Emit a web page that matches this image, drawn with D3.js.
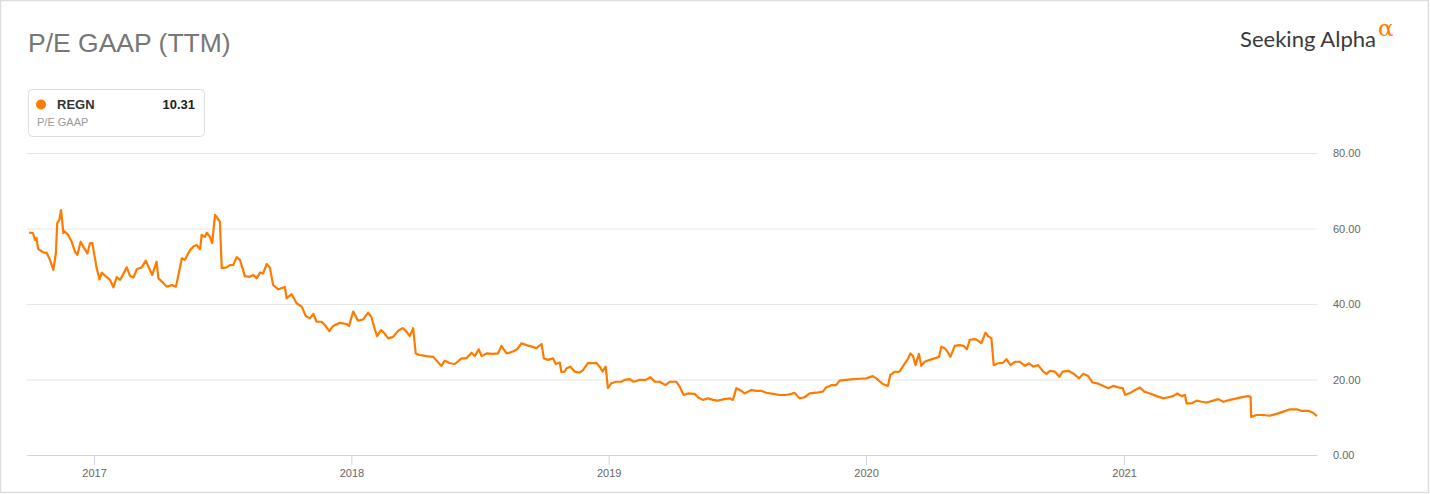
<!DOCTYPE html>
<html><head><meta charset="utf-8">
<script src="https://cdn.jsdelivr.net/npm/d3@7"></script>
<style>
html,body{margin:0;padding:0;background:#fff;}
svg{display:block;font-family:"Liberation Sans",Arial,sans-serif;}
</style></head>
<body><svg id="c" width="1430" height="494"></svg>
<script>
// ---- data (time as decimal year, P/E GAAP TTM) ----
const ticker = "REGN";
const metricLabel = "P/E GAAP";
const chartTitle = "P/E GAAP (TTM)";
const lastValue = "10.31";
const yearTicks = [2017, 2018, 2019, 2020, 2021];
const valueTicks = [0, 20, 40, 60, 80];
const peTime = [
2016.748,2016.763,2016.771,2016.777,2016.783,2016.798,2016.810,2016.816,2016.829,2016.842,
2016.852,2016.857,2016.865,2016.872,2016.881,2016.887,2016.900,2016.913,2016.926,2016.935,
2016.948,2016.958,2016.974,2016.984,2016.993,2017.010,2017.021,2017.030,2017.049,2017.062,
2017.075,2017.088,2017.101,2017.127,2017.140,2017.153,2017.166,2017.185,2017.201,2017.217,
2017.226,2017.243,2017.250,2017.269,2017.282,2017.302,2017.318,2017.327,2017.341,2017.353,
2017.373,2017.386,2017.399,2017.412,2017.418,2017.431,2017.438,2017.450,2017.459,2017.470,
2017.477,2017.483,2017.489,2017.496,2017.515,2017.528,2017.541,2017.554,2017.567,2017.586,
2017.606,2017.619,2017.632,2017.645,2017.657,2017.671,2017.683,2017.696,2017.716,2017.742,
2017.748,2017.768,2017.787,2017.807,2017.823,2017.839,2017.852,2017.865,2017.884,2017.897,
2017.914,2017.929,2017.955,2017.981,2017.991,2018.007,2018.026,2018.046,2018.065,2018.078,
2018.091,2018.100,2018.115,2018.130,2018.143,2018.162,2018.182,2018.199,2018.214,2018.227,
2018.240,2018.250,2018.266,2018.292,2018.318,2018.331,2018.350,2018.363,2018.383,2018.402,
2018.428,2018.447,2018.467,2018.480,2018.495,2018.506,2018.525,2018.551,2018.570,2018.583,
2018.603,2018.628,2018.644,2018.661,2018.680,2018.700,2018.719,2018.739,2018.748,2018.764,
2018.784,2018.794,2018.810,2018.816,2018.829,2018.836,2018.851,2018.868,2018.887,2018.900,
2018.920,2018.939,2018.952,2018.965,2018.976,2018.988,2018.997,2019.010,2019.030,2019.049,
2019.062,2019.082,2019.097,2019.120,2019.144,2019.162,2019.179,2019.198,2019.221,2019.237,
2019.263,2019.276,2019.291,2019.308,2019.334,2019.347,2019.366,2019.386,2019.405,2019.424,
2019.450,2019.470,2019.483,2019.496,2019.515,2019.528,2019.554,2019.574,2019.593,2019.612,
2019.638,2019.664,2019.690,2019.710,2019.722,2019.742,2019.761,2019.781,2019.807,2019.832,
2019.845,2019.865,2019.884,2019.897,2019.923,2019.949,2019.975,2020.001,2020.026,2020.040,
2020.065,2020.085,2020.094,2020.111,2020.130,2020.150,2020.162,2020.172,2020.182,2020.192,
2020.205,2020.214,2020.227,2020.247,2020.266,2020.283,2020.292,2020.305,2020.318,2020.327,
2020.344,2020.363,2020.379,2020.391,2020.402,2020.421,2020.434,2020.447,2020.463,2020.473,
2020.486,2020.495,2020.512,2020.531,2020.544,2020.560,2020.577,2020.596,2020.616,2020.632,
2020.648,2020.667,2020.687,2020.700,2020.713,2020.732,2020.749,2020.762,2020.784,2020.803,
2020.826,2020.842,2020.861,2020.878,2020.900,2020.920,2020.939,2020.958,2020.978,2020.995,
2021.004,2021.023,2021.043,2021.062,2021.078,2021.101,2021.127,2021.153,2021.172,2021.191,
2021.207,2021.224,2021.237,2021.243,2021.263,2021.282,2021.302,2021.321,2021.347,2021.366,
2021.386,2021.412,2021.438,2021.463,2021.483,2021.492,2021.494,2021.515,2021.541,2021.567,
2021.593,2021.619,2021.645,2021.671,2021.690,2021.716,2021.735,2021.750
];
const peValues = [
58.9,58.8,57.0,57.5,54.6,53.9,53.5,53.6,51.7,49.0,
53.5,61.4,62.2,64.9,58.8,59.2,58.3,56.5,53.9,53.0,
56.5,55.2,53.4,56.1,56.2,49.5,46.5,48.3,47.1,46.4,
44.4,47.1,46.4,49.7,47.4,47.0,49.2,49.7,51.5,49.0,
47.7,51.2,46.8,45.6,44.6,45.0,44.6,47.4,52.1,51.7,
54.3,55.2,55.6,54.5,58.3,57.8,58.9,57.8,56.1,63.6,
63.0,62.3,61.8,49.5,49.7,50.3,50.3,52.4,51.7,47.4,
47.2,47.7,46.8,48.3,48.1,50.6,49.7,45.0,43.9,44.5,
41.5,42.6,40.2,39.3,36.8,36.2,37.4,35.3,35.3,34.4,
32.8,34.2,35.0,34.7,34.2,38.0,35.6,35.9,37.7,36.5,
33.3,31.5,33.1,32.1,30.9,31.3,32.9,33.6,32.7,31.5,
33.6,26.9,26.5,26.2,26.0,25.0,23.6,25.0,24.3,24.1,
25.6,25.6,27.1,26.2,28.0,26.2,26.9,26.8,26.9,28.9,
26.9,27.4,28.0,29.6,29.1,28.7,28.3,29.4,25.6,25.2,
25.6,24.1,24.5,22.0,22.1,23.0,23.4,22.1,21.8,22.5,
24.4,24.3,24.4,23.4,22.1,23.4,17.7,19.0,19.4,19.4,
19.9,20.1,19.4,19.9,19.9,20.6,19.4,19.4,18.5,19.4,
19.4,18.1,15.9,16.3,16.2,15.3,14.6,15.0,14.6,14.4,
14.8,15.0,14.6,17.7,17.0,16.3,17.2,17.0,17.0,16.5,
16.2,15.9,15.9,16.2,16.5,15.0,15.3,16.3,16.5,16.8,
17.9,18.5,18.5,19.7,19.9,20.1,20.2,20.3,20.9,20.3,
18.8,18.3,21.2,22.0,22.1,24.2,25.4,26.9,26.2,23.8,
26.8,23.6,24.7,25.2,25.6,26.0,28.7,28.3,27.1,26.0,
28.9,29.1,28.9,28.0,30.5,30.7,30.3,29.6,32.4,31.5,
30.9,23.8,24.3,24.4,25.4,23.8,24.7,24.7,23.6,24.3,
23.4,23.8,22.1,21.5,22.3,22.1,20.7,22.1,22.3,21.6,
20.3,21.5,20.9,19.2,18.9,18.3,17.7,18.3,17.9,17.7,
15.9,16.4,17.2,17.9,16.8,16.3,15.6,15.0,15.3,15.6,
16.3,15.6,15.9,13.7,13.7,14.4,14.1,13.9,14.4,14.8,
14.1,14.6,15.0,15.4,15.6,15.4,10.1,10.6,10.6,10.4,
10.9,11.5,12.1,12.1,11.7,11.7,11.2,10.31
];
const xDomainStart = 2016.740;
const xDomainEnd = 2021.750;

// ---- helpers ----
function decToDate(t){
  const yr = Math.floor(t);
  const s = Date.UTC(yr,0,1), e = Date.UTC(yr+1,0,1);
  return new Date(s + (t-yr)*(e-s));
}
const data = peTime.map((t,i)=>({date:decToDate(t), v:peValues[i]}));

const svg = d3.select("#c");
const plot = {left:27, right:1317, top:153, bottom:455};
const lineColor = "#ff7b00";

// outer border
svg.append("rect").attr("x",0.5).attr("y",0.5).attr("width",1428).attr("height",492)
  .attr("fill","#fff").attr("stroke","#dddddd").attr("stroke-width",1.5);

const x = d3.scaleUtc().domain([decToDate(xDomainStart), decToDate(xDomainEnd)]).range([plot.left, plot.right]);
const y = d3.scaleLinear().domain([0,80]).range([plot.bottom, plot.top]);

// y axis + grid
const yAxis = d3.axisRight(y).tickValues(valueTicks).tickFormat(d3.format(".2f"))
  .tickSize(-(plot.right-plot.left)).tickPadding(16);
const gy = svg.append("g").attr("transform",`translate(${plot.right},0)`).call(yAxis);
gy.select(".domain").remove();
gy.selectAll(".tick line").attr("stroke","#e6e6e6");
gy.selectAll(".tick text").attr("fill","#666").style("font-size","11px");

// x axis
const xAxis = d3.axisBottom(x).tickValues(yearTicks.map(yv=>new Date(Date.UTC(yv,0,1))))
  .tickFormat(d3.utcFormat("%Y")).tickSize(10).tickSizeOuter(0).tickPadding(4);
const gx = svg.append("g").attr("transform",`translate(0,${plot.bottom})`).call(xAxis);
gx.select(".domain").attr("stroke","#ccd6eb");
gx.selectAll(".tick line").attr("stroke","#ccd6eb");
gx.selectAll(".tick text").attr("fill","#666").style("font-size","11px");

// line
const line = d3.line().x(d=>x(d.date)).y(d=>y(d.v));
svg.append("path").datum(data).attr("d",line).attr("fill","none")
  .attr("stroke",lineColor).attr("stroke-width",2.2).attr("stroke-linejoin","round");

// title
svg.append("text").attr("x",28).attr("y",52).text(chartTitle)
  .attr("fill","#777").style("font-size","26.5px");

// legend
const lg = svg.append("g");
lg.append("rect").attr("x",28.5).attr("y",89.5).attr("width",176).attr("height",47)
  .attr("rx",4).attr("fill","#fff").attr("stroke","#dedede");
lg.append("circle").attr("cx",41).attr("cy",104.5).attr("r",5).attr("fill",lineColor);
lg.append("text").attr("x",57).attr("y",109).text(ticker)
  .attr("fill","#333").style("font-size","13px").style("font-weight","bold");
lg.append("text").attr("x",195).attr("y",109).attr("text-anchor","end").text(lastValue)
  .attr("fill","#222").style("font-size","13px").style("font-weight","bold");
lg.append("text").attr("x",37).attr("y",126).text(metricLabel)
  .attr("fill","#999").style("font-size","11px");

// logo
svg.append("text").attr("x",1240).attr("y",47).text("Seeking Alpha")
  .attr("textLength",136).attr("lengthAdjust","spacingAndGlyphs")
  .attr("fill","#3a3a3a").style("font-family","Lato, 'Open Sans', sans-serif").style("font-size","21px");
svg.append("text").attr("x",1378).attr("y",36).text("α")
  .attr("fill","#ff7b00").style("font-family","'DejaVu Serif', serif").style("font-size","23px");
</script></body></html>
